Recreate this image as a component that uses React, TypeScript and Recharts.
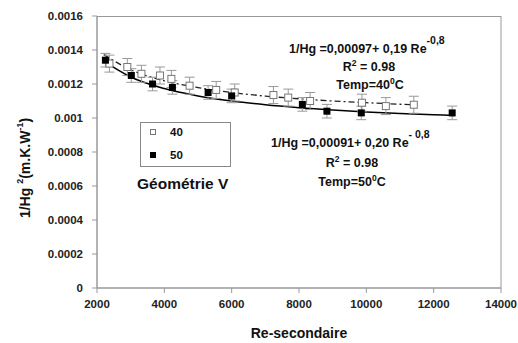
import {
  ComposedChart,
  Line,
  Scatter,
  ErrorBar,
  XAxis,
  YAxis,
} from "recharts";

const FONT = "'Liberation Sans', Arial, sans-serif";

// Temp 40°C measurements (open squares)
const re40 = [2370, 2900, 3320, 3870, 4210, 4750, 5540, 6090, 7240, 7680, 8330, 9870, 10580, 11410];
const h40 = [0.00132, 0.0013, 0.00126, 0.00125, 0.00123, 0.00119, 0.001165, 0.00115, 0.001135, 0.00112, 0.0011, 0.00109, 0.00107, 0.001078];
const err40 = [0.00005, 0.00005, 0.00005, 0.00005, 0.00005, 0.00005, 0.00005, 0.00005, 0.00005, 0.00005, 0.00005, 0.00005, 0.00005, 0.00005];

// Temp 50°C measurements (filled squares)
const re50 = [2250, 3020, 3650, 4240, 5300, 6000, 8100, 8830, 9850, 12550];
const h50 = [0.00134, 0.00125, 0.0012, 0.00118, 0.00115, 0.00113, 0.00108, 0.00104, 0.00103, 0.00103];
const err50 = [0.00004, 0.00004, 0.00004, 0.00004, 0.00004, 0.00004, 0.00004, 0.00004, 0.00004, 0.00004];

// trend lines
const fitRe40 = [2200, 3000, 4000, 5000, 6000, 7000, 8000, 9000, 10000, 11000, 11500];
const fitH40 = [0.001373, 0.001284, 0.001219, 0.001179, 0.00115, 0.001129, 0.001113, 0.0011, 0.00109, 0.001081, 0.001077];
const fitRe50 = [2200, 3000, 4000, 5000, 6000, 7000, 8000, 9000, 10000, 11000, 12000, 12600];
const fitH50 = [0.001334, 0.001241, 0.001173, 0.00113, 0.0011, 0.001078, 0.001061, 0.001047, 0.001036, 0.001027, 0.001019, 0.001015];

const xTicks = [2000, 4000, 6000, 8000, 10000, 12000, 14000];
const yTicks = [0, 0.0002, 0.0004, 0.0006, 0.0008, 0.001, 0.0012, 0.0014, 0.0016];

const pts40 = re40.map((x, i) => ({ x, y: h40[i], err: err40[i] }));
const pts50 = re50.map((x, i) => ({ x, y: h50[i], err: err50[i] }));
const line40 = fitRe40.map((x, i) => ({ x, y: fitH40[i] }));
const line50 = fitRe50.map((x, i) => ({ x, y: fitH50[i] }));

const OpenSquare = (p: any) => (
  <rect x={p.cx - 3.5} y={p.cy - 3.5} width={7} height={7} fill="#fff" stroke="#777" strokeWidth={1} />
);
const FilledSquare = (p: any) => (
  <rect x={p.cx - 3.5} y={p.cy - 3.5} width={7} height={7} fill="#000" />
);

const tickStyle = { fontSize: 11.5, fontFamily: FONT, fontWeight: "bold", fill: "#222" };

export default function App() {
  return (
    <div style={{ position: "relative", width: 518, height: 343, background: "#fff" }}>
      <style>{`body{margin:0}`}</style>
      <ComposedChart width={518} height={343} margin={{ top: 16, right: 17, bottom: 25, left: 0 }}>
        <XAxis
          dataKey="x"
          type="number"
          domain={[2000, 14000]}
          ticks={xTicks}
          height={30}
          stroke="#999"
          tickSize={5}
          tickMargin={7}
          tick={tickStyle}
          interval={0}
        />
        <YAxis
          type="number"
          domain={[0, 0.0016]}
          ticks={yTicks}
          width={97}
          stroke="#999"
          tickSize={5}
          tickMargin={9}
          tick={tickStyle}
          interval={0}
        />
        <Line data={line40} dataKey="y" type="monotone" stroke="#222" strokeWidth={1.3} strokeDasharray="6 3 2 3" dot={false} isAnimationActive={false} />
        <Line data={line50} dataKey="y" type="monotone" stroke="#000" strokeWidth={1.5} dot={false} isAnimationActive={false} />
        <Scatter data={pts40} dataKey="y" shape={OpenSquare} isAnimationActive={false}>
          <ErrorBar dataKey="err" direction="y" width={5} stroke="#999" strokeWidth={1} />
        </Scatter>
        <Scatter data={pts50} dataKey="y" shape={FilledSquare} isAnimationActive={false}>
          <ErrorBar dataKey="err" direction="y" width={5} stroke="#999" strokeWidth={1} />
        </Scatter>
      </ComposedChart>

      <svg width={518} height={343} style={{ position: "absolute", left: 0, top: 0, pointerEvents: "none" }} fontFamily={FONT} fontWeight="bold" fill="#111">
        {/* plot frame */}
        <rect x={97} y={16.5} width={404} height={271.5} fill="none" stroke="#999" strokeWidth={1} />
        {/* y axis title */}
        <text transform="translate(30,168) rotate(-90)" textAnchor="middle" fontSize={14}>
          1/Hg <tspan fontSize={9} dy={-7}>2</tspan>
          <tspan dy={7}>(m.K.W</tspan>
          <tspan fontSize={9} dy={-7}>-1</tspan>
          <tspan dy={7}>)</tspan>
        </text>
        {/* x axis title */}
        <text x={299} y={338} textAnchor="middle" fontSize={14}>Re-secondaire</text>

        {/* equation 40°C */}
        <text x={289} y={53} fontSize={12.5}>
          1/Hg =0,00097+ 0,19 Re<tspan fontSize={10.5} dy={-9}>-0,8</tspan>
        </text>
        <text x={369} y={71} textAnchor="middle" fontSize={12.5}>
          R<tspan fontSize={8.5} dy={-5}>2</tspan><tspan dy={5}> = 0.98</tspan>
        </text>
        <text x={370} y={89} textAnchor="middle" fontSize={12.5}>
          Temp=40<tspan fontSize={8.5} dy={-5}>0</tspan><tspan dy={5}>C</tspan>
        </text>

        {/* equation 50°C */}
        <text x={271} y={147} fontSize={12.5}>
          1/Hg =0,00091+ 0,20 Re<tspan fontSize={10.5} dy={-9}>- 0,8</tspan>
        </text>
        <text x={352} y={167} textAnchor="middle" fontSize={12.5}>
          R<tspan fontSize={8.5} dy={-5}>2</tspan><tspan dy={5}> = 0.98</tspan>
        </text>
        <text x={352} y={186} textAnchor="middle" fontSize={12.5}>
          Temp=50<tspan fontSize={8.5} dy={-5}>0</tspan><tspan dy={5}>C</tspan>
        </text>

        {/* legend */}
        <rect x={140.5} y={122.5} width={90} height={44} fill="#fff" stroke="#888" strokeWidth={1} />
        <rect x={150.5} y={129.5} width={5} height={5} fill="#fff" stroke="#777" />
        <text x={170} y={136} fontSize={11.5}>40</text>
        <rect x={150} y={152} width={6} height={6} fill="#000" />
        <text x={170} y={159} fontSize={11.5}>50</text>

        <text x={137} y={189} fontSize={15.5}>Géométrie V</text>
      </svg>
    </div>
  );
}
